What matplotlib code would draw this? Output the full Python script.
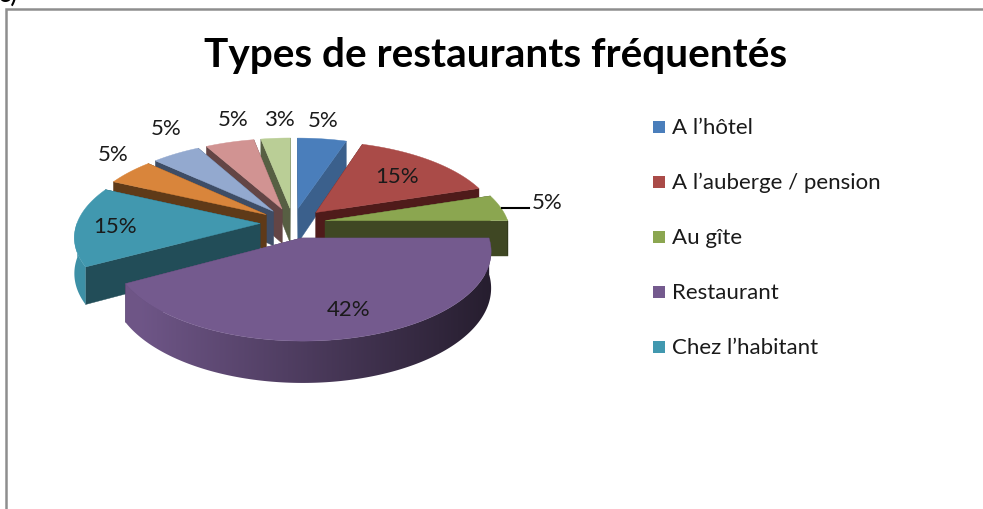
import numpy as np
import matplotlib
matplotlib.use('Agg')
import matplotlib.pyplot as plt
from matplotlib.colors import to_rgb
from matplotlib.patches import Polygon, Rectangle

plt.rcParams['font.family'] = ['Lato', 'DejaVu Sans']

# ─────────────────────────────────────────
# DATA
# ─────────────────────────────────────────
title = 'Types de restaurants fréquentés'
categories = ['A l’hôtel', 'A l’auberge / pension', 'Au gîte', 'Restaurant', 'Chez l’habitant']
shares = [5, 15, 5, 42, 15, 5, 5, 5, 3]
top_colors = ['#4A7EBB', '#AA4B48', '#8BA650', '#745A8E', '#4198AF',
              '#D9853B', '#93A9CF', '#D19392', '#BACE96']
wall_colors = ['#3B608C', '#4F1B1A', '#3F4723', '#4A3A5E', '#224D58',
               '#5F3A18', '#3E4D66', '#634545', '#575F43']
label_pos = [(323, 121), (397, 177), (547, 203), (349, 310), (115, 227),
             (113, 155), (166, 129), (233, 120), (279, 120)]

# pie geometry, in picture pixels
CX, CY = 293, 224
SX, SY = 183, 84
PERSP = 0.14
DEPTH = 35
EXPLODE = 0.18


def project(u, v, drop=0.0):
    den = 1 + PERSP * v
    return CX + SX * u / den, CY - SY * v / den + drop * DEPTH / den


def draw_rim(ax, us, vs, top):
    # gradient image clipped to the rim: lighter on the left, darker on the right
    upper = [project(u, v) for u, v in zip(us, vs)]
    lower = [project(u, v, 1) for u, v in zip(us, vs)]
    outline = Polygon(upper + lower[::-1], transform=ax.transData, fc='none', ec='none')
    ax.add_patch(outline)
    xs = np.linspace(0, 983, 492)
    shade = np.clip(0.68 - 0.34 * (xs - CX) / (SX * 1.05), 0.3, 0.95)
    grad = np.array(to_rgb(top))[None, None, :] * shade[None, :, None]
    # same zorder as the patches, so the drawing order stays back to front
    im = ax.imshow(grad, extent=(0, 983, 510, 0), aspect='auto', interpolation='bilinear', zorder=1)
    im.set_clip_path(outline)


def draw_slice(ax, a0, a1, top, wall):
    mid = (a0 + a1) / 2
    ou, ov = EXPLODE * np.sin(mid), EXPLODE * np.cos(mid)
    angles = np.linspace(a0, a1, max(int((a1 - a0) * 60), 6))
    us = ou + np.sin(angles)
    vs = ov + np.cos(angles)

    # radial walls
    for ang in (a0, a1):
        eu, ev = ou + np.sin(ang), ov + np.cos(ang)
        pts = [project(ou, ov), project(eu, ev), project(eu, ev, 1), project(ou, ov, 1)]
        ax.add_patch(Polygon(pts, fc=wall, ec=wall, lw=0.3))

    # outer rim, only the part that faces the viewer
    front = np.cos(angles) < 0.02
    if front.sum() > 1:
        draw_rim(ax, us[front], vs[front], top)

    # top face
    pts = [project(ou, ov)] + [project(u, v) for u, v in zip(us, vs)]
    ax.add_patch(Polygon(pts, fc=top, ec=top, lw=0.3))


def plot_chart():
    fig = plt.figure(figsize=(9.83, 5.10), dpi=100)
    ax = fig.add_axes([0, 0, 1, 1])

    # chart frame
    ax.plot([5.5, 5.5, 983], [510, 9.5, 9.5], color='#8E8E8E', lw=1.8, solid_joinstyle='miter')
    ax.text(-2, 7, 'c)', fontsize=20, ha='left', va='bottom', color='black')

    # slices, rear ones first
    edges = np.cumsum([0] + shares) / sum(shares) * 2 * np.pi
    mids = (edges[:-1] + edges[1:]) / 2
    for i in np.argsort(-np.cos(mids)):
        draw_slice(ax, edges[i], edges[i + 1], top_colors[i], wall_colors[i])

    # value labels
    for val, (x, y) in zip(shares, label_pos):
        ax.text(x, y, f'{val}%', fontsize=16, ha='center', va='center', color='#1A1A1A')
    ax.plot([502, 529], [209, 209], color='black', lw=1.5)

    ax.text(496, 56, title, fontsize=29.2, fontweight='bold', ha='center', va='center', color='black')

    # legend
    for i, cat in enumerate(categories):
        y = 127.5 + i * 55
        ax.add_patch(Rectangle((653, y - 6), 12, 12, fc=top_colors[i], ec='none'))
        ax.text(672, y + 0.5, cat, fontsize=16, ha='left', va='center', color='#1A1A1A')

    ax.set_xlim(0, 983)
    ax.set_ylim(510, 0)
    ax.axis('off')

    fig.savefig('out.png', dpi=100, facecolor='white')
    plt.close(fig)


if __name__ == "__main__":
    plot_chart()
